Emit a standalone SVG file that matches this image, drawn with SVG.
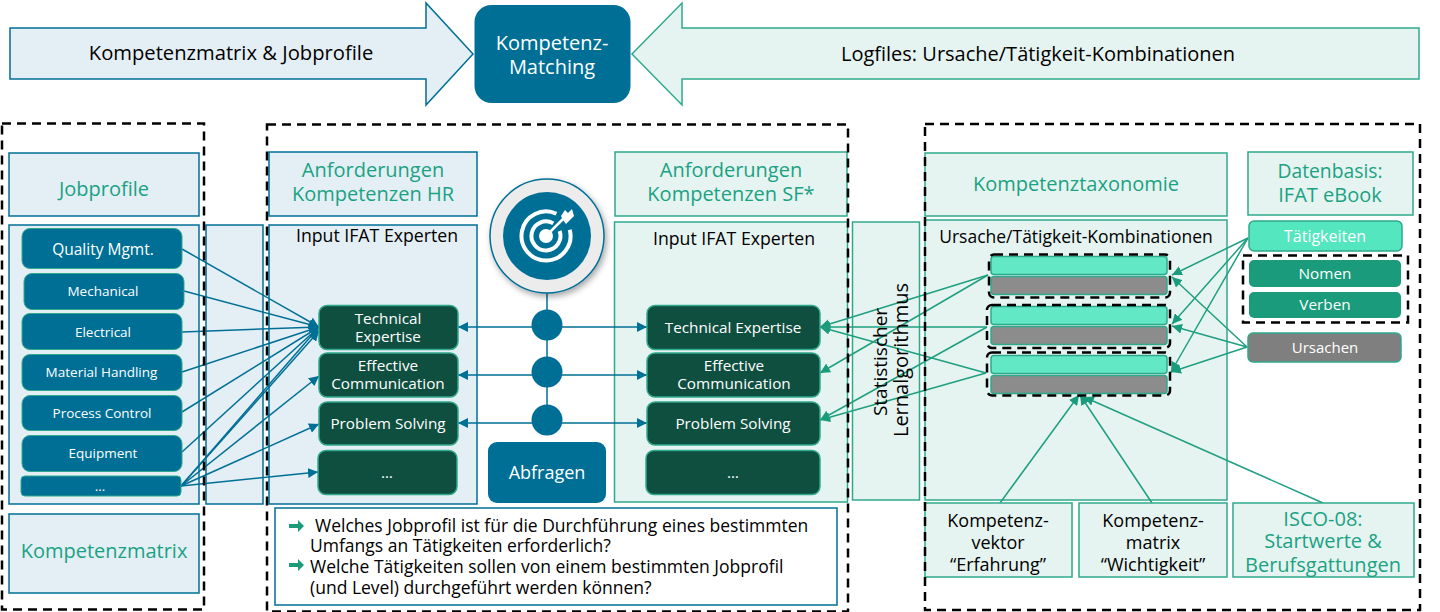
<svg xmlns="http://www.w3.org/2000/svg" width="1440" height="612" viewBox="0 0 1440 612">
<style>
text{font-family:"Open Sans","Noto Sans","Liberation Sans",sans-serif;text-anchor:middle}
.pb{fill:#e4eff5;stroke:#006f96;stroke-width:1.5}
.pg{fill:#e6f4f1;stroke:#2fa98c;stroke-width:1.5}
.hd{fill:#1aa283;font-size:20px}
.dash{fill:none;stroke:#000;stroke-width:2.5;stroke-dasharray:9 6}
.blue{fill:#006f96;stroke:#2fa98c;stroke-width:1}
.dark{fill:#0f4f40;stroke:#2fa98c;stroke-width:1.5}
.w{fill:#fff}
.s13{font-size:13.5px}.s14{font-size:15.3px}.k{fill:#000}
.lb{fill:none;stroke:#006f96;stroke-width:1.5}
.lg{fill:none;stroke:#1f9f80;stroke-width:1.5}
.ab{marker-end:url(#mb)}.ag{marker-end:url(#mg)}
.bar1{fill:#63e8c6;stroke:#2fa98c;stroke-width:1.5}
.bar2{fill:#8c8c8c;stroke:#2fa98c;stroke-width:1.5}
.st{text-anchor:start}
</style>
<defs>
<marker id="mb" markerUnits="userSpaceOnUse" markerWidth="12" markerHeight="10" refX="10" refY="5" orient="auto"><path d="M0 0L10 5L0 10Z" fill="#006f96"/></marker>
<marker id="mbs" markerUnits="userSpaceOnUse" markerWidth="12" markerHeight="10" refX="0" refY="5" orient="auto"><path d="M10 0L0 5L10 10Z" fill="#006f96"/></marker>
<marker id="mg" markerUnits="userSpaceOnUse" markerWidth="12" markerHeight="10" refX="10" refY="5" orient="auto"><path d="M0 0L10 5L0 10Z" fill="#1a9b7b"/></marker>
<filter id="sh" x="-20%" y="-20%" width="150%" height="150%"><feDropShadow dx="2" dy="3" stdDeviation="3" flood-color="#000" flood-opacity=".35"/></filter>
</defs>

<g id="arrow-left"><path class="pb" d="M10 28H426V3L473 54L426 105V79H10Z"/><text x="231" y="60" font-size="20.2" class="k">Kompetenzmatrix &amp; Jobprofile</text></g>
<g id="arrow-right"><path class="pg" d="M1419 28H682V3L632 54L682 105V79H1419Z"/><text x="1038" y="61" font-size="20" class="k">Logfiles: Ursache/Tätigkeit-Kombinationen</text></g>
<g id="matching"><rect x="474.500" y="5" width="156" height="98" rx="17" fill="#006f96"/><text x="552" y="50" font-size="20" class="w">Kompetenz-</text><text x="552" y="74" font-size="20" class="w">Matching</text></g>

<g id="panels">
<g id="jobprofile"><rect class="pb" x="9" y="153" width="190" height="63"/><text class="hd" x="104" y="196">Jobprofile</text></g>
<g id="kompetenzmatrix"><rect class="pb" x="9" y="514" width="190" height="79"/><text class="hd" x="104" y="558">Kompetenzmatrix</text></g>
<rect id="panel-jobs" class="pb" x="9" y="225" width="190" height="279"/>
<rect id="panel-gap" class="pb" x="206" y="225" width="57" height="279"/>
<g id="anf-hr"><rect class="pb" x="269" y="152" width="208" height="64"/><text class="hd" x="373" y="177">Anforderungen</text><text class="hd" x="373" y="201">Kompetenzen HR</text></g>
<g id="input-hr"><rect class="pb" x="269" y="225" width="208" height="279"/><text x="377" y="242" font-size="17.700" class="k">Input IFAT Experten</text></g>
<g id="anf-sf"><rect class="pg" x="615" y="152" width="232" height="64"/><text class="hd" x="731" y="177">Anforderungen</text><text class="hd" x="731" y="201">Kompetenzen SF*</text></g>
<g id="input-sf"><rect class="pg" x="614.500" y="222" width="233" height="280"/><text x="734" y="245" font-size="17.700" class="k">Input IFAT Experten</text></g>
<g id="lernalgorithmus"><rect class="pg" x="852.500" y="222" width="67" height="278"/></g>
<g id="taxonomie"><rect class="pg" x="925" y="153" width="302" height="63"/><text class="hd" x="1076" y="191">Kompetenztaxonomie</text></g>
<g id="kombinationen"><rect class="pg" x="925" y="220" width="302" height="280"/><text x="1076" y="243" font-size="17.500" class="k">Ursache/Tätigkeit-Kombinationen</text></g>
<g id="datenbasis"><rect class="pg" x="1248" y="152" width="165" height="63"/><text class="hd" x="1330" y="178" style="font-size:19.3px">Datenbasis:</text><text class="hd" x="1330" y="202">IFAT eBook</text></g>
</g>

<g id="connectors">
<g class="lb">
<path class="ab" d="M182 249L319 327"/><path class="ab" d="M184 291L319 327"/><path class="ab" d="M182 332L319 327"/><path class="ab" d="M182 372L319 327"/><path class="ab" d="M182 412L319 327"/><path class="ab" d="M182 452L319 327"/>
<path class="ab" d="M181 486L319 327"/><path class="ab" d="M181 486L319 331"/><path class="ab" d="M181 486L319 376"/><path class="ab" d="M181 486L319 424"/><path class="ab" d="M181 486L318 472"/>
<path d="M547 290V420"/>
<path class="ab" style="marker-start:url(#mbs)" d="M458 327H647"/><path class="ab" style="marker-start:url(#mbs)" d="M458 375H647"/><path class="ab" style="marker-start:url(#mbs)" d="M458 423H647"/>
</g>
<g class="lg">
<path class="ag" d="M988 275L820 327"/><path class="ag" d="M988 275L820 373"/><path class="ag" d="M987 327L820 327"/><path class="ag" d="M987 327L820 420"/><path class="ag" d="M986 373L820 327"/><path class="ag" d="M986 373L820 420"/>
<path class="ag" d="M1248 238L1172 275"/><path class="ag" d="M1248 238L1172 324"/><path class="ag" d="M1248 238L1171 372"/>
<path class="ag" d="M1247 347L1172 277"/><path class="ag" d="M1247 347L1172 326"/><path class="ag" d="M1247 347L1171 372"/>
<path class="ag" d="M1000 503L1079 395"/><path class="ag" d="M1152 503L1080 395"/><path class="ag" d="M1323 503L1084 397"/>
</g>
</g>

<g id="nodes-jobs">
<g id="j1"><rect class="blue" x="22" y="228.500" width="160" height="40" rx="8"/><text class="w" font-size="15.500" x="103" y="255">Quality Mgmt.</text></g>
<g id="j2"><rect class="blue" x="24" y="273.500" width="160" height="36" rx="8"/><text class="w s13" x="103" y="296">Mechanical</text></g>
<g id="j3"><rect class="blue" x="22" y="313.500" width="160" height="36" rx="8"/><text class="w s13" x="103" y="337">Electrical</text></g>
<g id="j4"><rect class="blue" x="22" y="354.500" width="160" height="36" rx="8"/><text class="w s13" x="101.500" y="377">Material  Handling</text></g>
<g id="j5"><rect class="blue" x="22" y="395.500" width="160" height="35" rx="8"/><text class="w s13" x="102" y="418">Process Control</text></g>
<g id="j6"><rect class="blue" x="22" y="435.500" width="160" height="36" rx="8"/><text class="w s13" x="103" y="458">Equipment</text></g>
<g id="j7"><rect class="blue" x="21" y="476" width="160" height="20" rx="4"/><text class="w s13" x="100" y="491">…</text></g>
</g>

<g id="nodes-hr">
<g id="h1"><rect class="dark" x="319" y="305.500" width="139" height="44" rx="8"/><text class="w s14" x="388" y="324">Technical</text><text class="w s14" x="388" y="342">Expertise</text></g>
<g id="h2"><rect class="dark" x="319" y="353" width="139" height="44" rx="8"/><text class="w s14" x="388" y="371">Effective</text><text class="w s14" x="388" y="389">Communication</text></g>
<g id="h3"><rect class="dark" x="319" y="402" width="139" height="43" rx="8"/><text class="w s14" x="388" y="429">Problem Solving</text></g>
<g id="h4"><rect class="dark" x="318" y="450.500" width="139" height="44" rx="8"/><text class="w s14" x="387" y="478">…</text></g>
</g>

<g id="nodes-sf">
<g id="s1"><rect class="dark" x="647" y="305.500" width="173" height="44" rx="8"/><text class="w s14" x="733" y="333">Technical Expertise</text></g>
<g id="s2"><rect class="dark" x="647" y="353" width="173" height="44" rx="8"/><text class="w s14" x="734" y="371">Effective</text><text class="w s14" x="734" y="389">Communication</text></g>
<g id="s3"><rect class="dark" x="647" y="402" width="173" height="43" rx="8"/><text class="w s14" x="733" y="429">Problem Solving</text></g>
<g id="s4"><rect class="dark" x="646" y="450.500" width="174" height="44" rx="8"/><text class="w s14" x="733" y="478">…</text></g>
</g>

<g id="ziel">
<circle cx="547" cy="236" r="57" fill="#ececec" stroke="#006f96" stroke-width="1.5" filter="url(#sh)"/>
<circle cx="547" cy="236" r="44" fill="#006f96"/>
<g fill="none" stroke="#fff" stroke-width="4">
<path d="M556.400 213.800A24.500 24.500 0 1 0 569.700 229.700"/>
<path d="M553.300 223.400A14.500 14.500 0 1 0 559.600 231"/>
</g>
<circle cx="546" cy="236" r="7" fill="#fff"/>
<path d="M546 236L566 216" stroke="#fff" stroke-width="2.500"/>
<path d="M561 216L565 210L568 213L572 209L574 216L570 220L566 224L563 220Z" fill="#fff"/>
</g>
<g id="punkte" fill="#006f96"><circle cx="547" cy="325" r="15.500"/><circle cx="547" cy="372" r="15.500"/><circle cx="547" cy="420" r="15.500"/></g>
<g id="abfragen"><rect x="488" y="442" width="118" height="61" rx="9" fill="#006f96"/><text class="w" x="547" y="479" font-size="18">Abfragen</text></g>

<g id="lern-text" class="k"><text font-size="19" transform="translate(887 362) rotate(-90)">Statistischer</text><text font-size="20" transform="translate(908 360) rotate(-90)">Lernalgorithmus</text></g>

<g id="bars">
<rect class="bar1" x="991" y="256.500" width="176" height="18" rx="3"/><rect class="bar2" x="991" y="276.500" width="176" height="18" rx="3"/>
<rect class="bar1" x="991" y="306.500" width="176" height="18" rx="3"/><rect class="bar2" x="991" y="326.500" width="176" height="18" rx="3"/>
<rect class="bar1" x="991" y="355.500" width="176" height="18" rx="3"/><rect class="bar2" x="991" y="375.500" width="176" height="18" rx="3"/>
<rect class="dash" x="989" y="254.500" width="181" height="43" rx="5"/><rect class="dash" x="987" y="305" width="183" height="43" rx="5"/><rect class="dash" x="987" y="352.500" width="183" height="43" rx="5"/>
</g>

<g id="taetigkeiten"><rect x="1249" y="221" width="153" height="30" rx="5" fill="#53e6bf" stroke="#2fa98c" stroke-width="1.500"/><text class="w" x="1325" y="241.500" font-size="16">Tätigkeiten</text></g>
<g id="nomen"><rect x="1249" y="260" width="152" height="27" rx="5" fill="#1a9b7b"/><text class="w" x="1325" y="279" font-size="15.300">Nomen</text></g>
<g id="verben"><rect x="1249" y="292" width="152" height="26" rx="5" fill="#1a9b7b"/><text class="w" x="1325" y="310" font-size="15.300">Verben</text></g>
<rect id="nv-group" class="dash" x="1243" y="255.500" width="165" height="67"/>
<g id="ursachen"><rect x="1248" y="333" width="153" height="29" rx="5" fill="#7f7f7f" stroke="#2fa98c" stroke-width="1.500"/><text class="w" x="1325" y="353" font-size="15">Ursachen</text></g>

<g id="vektor"><rect class="pg" x="925" y="503" width="147" height="74"/><g class="k" font-size="18"><text x="998" y="527">Kompetenz-</text><text x="998" y="549">vektor</text><text x="998" y="571">“Erfahrung”</text></g></g>
<g id="matrix"><rect class="pg" x="1079" y="503" width="148" height="74"/><g class="k" font-size="18"><text x="1153" y="527">Kompetenz-</text><text x="1153" y="549">matrix</text><text x="1153" y="571">“Wichtigkeit”</text></g></g>
<g id="isco"><rect class="pg" x="1233" y="503" width="181" height="74"/><g><text class="hd" x="1323" y="526">ISCO-08:</text><text class="hd" x="1323" y="548">Startwerte &amp;</text><text class="hd" x="1323" y="572">Berufsgattungen</text></g></g>

<g id="fragen"><rect x="275" y="508" width="562" height="97" fill="#fff" stroke="#006f96" stroke-width="1.5"/>
<g class="k" font-size="17.500">
<text class="st" x="315" y="532">Welches Jobprofil ist für die Durchführung eines bestimmten</text>
<text class="st" x="310" y="552">Umfangs an Tätigkeiten erforderlich?</text>
<text class="st" x="310" y="573">Welche Tätigkeiten sollen von einem bestimmten Jobprofil</text>
<text class="st" x="310" y="594">(und Level) durchgeführt werden können?</text></g>
<g fill="#1a9b7b"><path d="M289 524H298V520L304 526L298 532V528H289Z"/><path d="M289 563H298V559L304 565L298 571V567H289Z"/></g></g>

<g id="rahmen"><rect class="dash" x="2" y="123.500" width="202" height="486"/><rect class="dash" x="267" y="124.500" width="581" height="487"/><rect class="dash" x="925" y="124" width="495" height="486"/></g>
</svg>
